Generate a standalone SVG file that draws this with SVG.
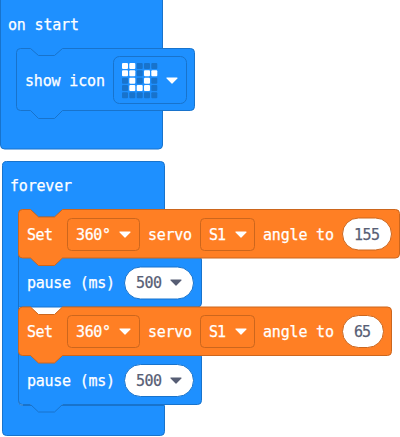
<svg xmlns="http://www.w3.org/2000/svg" width="400" height="437" viewBox="0 0 400 437">
<defs>
<style>
.b{fill:#1e90ff;stroke:#1873cc;stroke-width:1}
.o{fill:#ff7f24;stroke:#cc661d;stroke-width:1}
.t{font-family:"DejaVu Sans Mono",monospace;font-size:15px;fill:#fff;stroke:#fff;stroke-width:.25}
.d{fill:#575e75;stroke:#575e75;stroke-width:.25;font-size:15px;font-family:"DejaVu Sans Mono",monospace}
.dd{fill:none;stroke:#cc661d;stroke-width:1}
.ov{fill:#fff;stroke:#cc661d;stroke-width:1}
.ob{fill:#fff;stroke:#1873cc;stroke-width:1}
.on{fill:#fff}
.off{fill:#1873cc}
</style>
<path id="aw" d="M0 0H10L5 5Z" fill="#fff" stroke="#fff" stroke-width="1.2" stroke-linejoin="round"/>
<path id="ad" d="M0 0H10L5 5Z" fill="#575e75" stroke="#575e75" stroke-width="1.2" stroke-linejoin="round"/>
</defs>
<g id="on-start">
<path class="b" d="M0.500 -4H158.500a4 4 0 0 1 4 4V145a4 4 0 0 1 -4 4H4.500a4 4 0 0 1 -4 -4Z"/>
<text class="t" x="8" y="30" textLength="71">on start</text>
</g>
<g id="show-icon">
<path class="b" d="M20.500 48.500H30.500L38.500 55.500H54.500L62.500 48.500H190.500a4 4 0 0 1 4 4V106.500a4 4 0 0 1 -4 4H62.500L54.500 118.500H38.500L30.500 110.500H20.500a4 4 0 0 1 -4 -4V52.500a4 4 0 0 1 4 -4Z"/>
<text class="t" x="25" y="86" textLength="80">show icon</text>
<rect x="113.500" y="56.500" width="73" height="47" rx="6" fill="none" stroke="#1873cc"/>
<g class="off">
<rect x="136.700" y="63" width="6" height="6" rx="1"/><rect x="144" y="63" width="6" height="6" rx="1"/><rect x="151.300" y="63" width="6" height="6" rx="1"/>
<rect x="136.700" y="70.300" width="6" height="6" rx="1"/>
<rect x="122" y="77.700" width="6" height="6" rx="1"/><rect x="136.700" y="77.700" width="6" height="6" rx="1"/><rect x="151.300" y="77.700" width="6" height="6" rx="1"/>
<rect x="122" y="85" width="6" height="6" rx="1"/><rect x="151.300" y="85" width="6" height="6" rx="1"/>
<rect x="122" y="92.300" width="6" height="6" rx="1"/><rect x="129.300" y="92.300" width="6" height="6" rx="1"/><rect x="136.700" y="92.300" width="6" height="6" rx="1"/><rect x="144" y="92.300" width="6" height="6" rx="1"/><rect x="151.300" y="92.300" width="6" height="6" rx="1"/>
</g>
<g class="on">
<rect x="122" y="63" width="6" height="6" rx="1"/><rect x="129.300" y="63" width="6" height="6" rx="1"/>
<rect x="122" y="70.300" width="6" height="6" rx="1"/><rect x="129.300" y="70.300" width="6" height="6" rx="1"/><rect x="144" y="70.300" width="6" height="6" rx="1"/><rect x="151.300" y="70.300" width="6" height="6" rx="1"/>
<rect x="129.300" y="77.700" width="6" height="6" rx="1"/><rect x="144" y="77.700" width="6" height="6" rx="1"/>
<rect x="129.300" y="85" width="6" height="6" rx="1"/><rect x="136.700" y="85" width="6" height="6" rx="1"/><rect x="144" y="85" width="6" height="6" rx="1"/>
</g>
<use href="#aw" x="167" y="78"/>
</g>
<g id="forever">
<path class="b" d="M6.500 161.500H160.500a4 4 0 0 1 4 4V209.500H62.500L54.500 217H38.500L30.500 209.500H22.500a4 4 0 0 0 -4 4V401.500a4 4 0 0 0 4 4H164.500V431.500a4 4 0 0 1 -4 4H6.500a4 4 0 0 1 -4 -4V165.500a4 4 0 0 1 4 -4Z"/>
<text class="t" x="10" y="191" textLength="62">forever</text>
</g>
<g id="pause-1">
<path class="b" d="M18.500 256H197.500a4 4 0 0 1 4 4V303a4 4 0 0 1 -4 4H18.500Z"/>
<text class="t" x="27" y="288" textLength="88">pause (ms)</text>
<rect class="ob" x="124.500" y="267" width="69" height="32" rx="16"/>
<text class="d" x="136" y="288" textLength="26">500</text>
<use href="#ad" x="171" y="280"/>
</g>
<g id="pause-2">
<path class="b" d="M18.500 353H197.500a4 4 0 0 1 4 4V400.500a4 4 0 0 1 -4 4H62.500L54.500 412H38.500L30.500 404.500H22.500a4 4 0 0 1 -4 -4Z"/>
<text class="t" x="27" y="386" textLength="88">pause (ms)</text>
<rect class="ob" x="124.500" y="364.500" width="69" height="32" rx="16"/>
<text class="d" x="136" y="386" textLength="26">500</text>
<use href="#ad" x="171" y="378"/>
</g>
<g id="set-1">
<path class="o" d="M22.500 209.500H30.500L38.500 217H54.500L62.500 209.500H395.500a4 4 0 0 1 4 4V254a4 4 0 0 1 -4 4H62.500L54.500 265.500H38.500L30.500 258H22.500a4 4 0 0 1 -4 -4V213.500a4 4 0 0 1 4 -4Z"/>
<text class="t" x="27" y="240" textLength="26">Set</text>
<rect class="dd" x="67.500" y="218.500" width="72" height="32" rx="4"/>
<text class="t" x="76" y="240" textLength="35">360°</text>
<use href="#aw" x="120" y="232"/>
<text class="t" x="148" y="240" textLength="44">servo</text>
<rect class="dd" x="200.500" y="218.500" width="54" height="32" rx="4"/>
<text class="t" x="209" y="240" textLength="17">S1</text>
<use href="#aw" x="236" y="232"/>
<text class="t" x="263" y="240" textLength="71">angle to</text>
<rect class="ov" x="342.500" y="218" width="49" height="32" rx="16"/>
<text class="d" x="354" y="240" textLength="26">155</text>
</g>
<g id="set-2">
<path class="o" d="M22.500 307H30.500L38.500 314.500H54.500L62.500 307H387.500a4 4 0 0 1 4 4V351.500a4 4 0 0 1 -4 4H62.500L54.500 363H38.500L30.500 355.500H22.500a4 4 0 0 1 -4 -4V311a4 4 0 0 1 4 -4Z"/>
<text class="t" x="27" y="337" textLength="26">Set</text>
<rect class="dd" x="67.500" y="315.500" width="72" height="32" rx="4"/>
<text class="t" x="76" y="337" textLength="35">360°</text>
<use href="#aw" x="120" y="329"/>
<text class="t" x="148" y="337" textLength="44">servo</text>
<rect class="dd" x="200.500" y="315.500" width="54" height="32" rx="4"/>
<text class="t" x="209" y="337" textLength="17">S1</text>
<use href="#aw" x="236" y="329"/>
<text class="t" x="263" y="337" textLength="71">angle to</text>
<rect class="ov" x="342.500" y="315.500" width="41" height="32" rx="16"/>
<text class="d" x="354" y="337" textLength="17">65</text>
</g>
</svg>
